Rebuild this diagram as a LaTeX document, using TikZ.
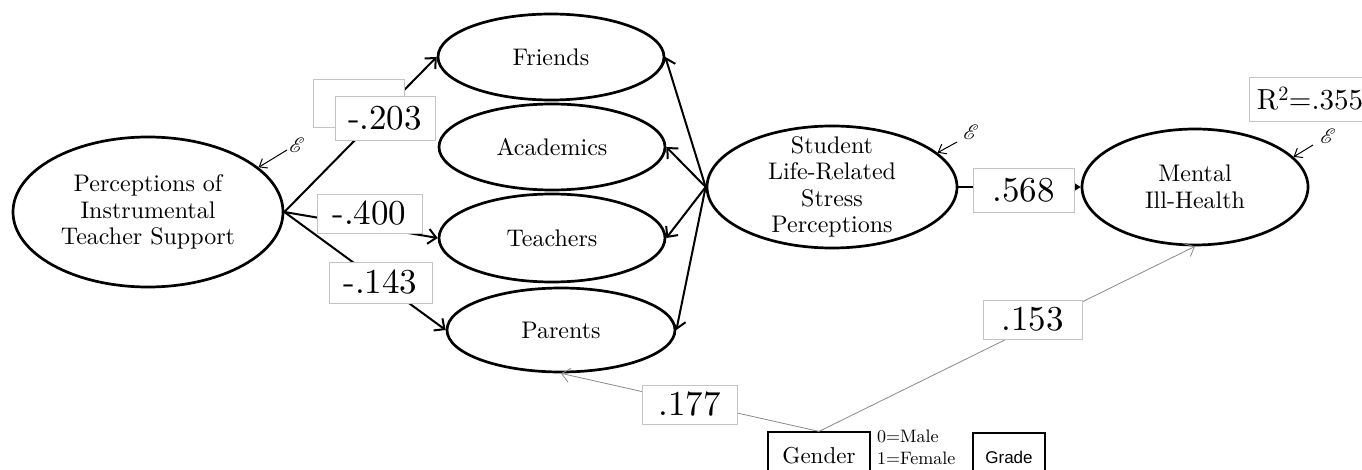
\documentclass[tikz,border=0pt]{standalone}
\usepackage{mathrsfs}
\usepackage{fontspec}
\setmainfont{lmroman10-regular.otf}[BoldFont=lmroman10-bold.otf,ItalicFont=lmroman10-italic.otf]
\newfontfamily\gradefont{Liberation Sans}
\usetikzlibrary{shapes.geometric,arrows.meta}
\definecolor{boxgray}{HTML}{C4C4C4}
\definecolor{linegray}{HTML}{8A8A8A}
\begin{document}
\begin{tikzpicture}[x=1pt,y=-1pt,
  lat/.style={ellipse,draw,line width=2.7pt,inner sep=0pt},
  txt/.style={align=center,font=\fontsize{24}{26.5}\selectfont,inner sep=0pt},
  arr/.style={line width=2pt,-{Straight Barb[length=8pt,width=15pt,line width=2pt]}},
  garr/.style={linegray,line width=0.8pt,-{Straight Barb[length=8pt,width=14pt,line width=0.8pt]}},
  earr/.style={line width=1pt,-{Straight Barb[length=7pt,width=11pt,line width=1pt]}},
  lab/.style={draw=boxgray,line width=0.8pt,fill=white,inner sep=0pt,font=\fontsize{35}{38}\selectfont},
  obs/.style={draw,line width=1.2pt,fill=white,inner sep=0pt},
  eps/.style={inner sep=0pt,font=\fontsize{20}{22}\selectfont}]
\useasboundingbox[fill=white] (0,0) rectangle (1362,470);

% latent variables
\node[lat,minimum width=270pt,minimum height=150pt,label={[txt]center:{Perceptions of\\Instrumental\\Teacher Support}}] (perc) at (148,212) {};
\node[lat,minimum width=226pt,minimum height=86pt,label={[txt]center:{Friends}}] (fr) at (551,57) {};
\node[lat,minimum width=226pt,minimum height=86pt,label={[txt]center:{Academics}}] (ac) at (552,147) {};
\node[lat,minimum width=226pt,minimum height=88pt,label={[txt]center:{Teachers}}] (te) at (552,238) {};
\node[lat,minimum width=228pt,minimum height=84pt,label={[txt]center:{Parents}}] (pa) at (561,330) {};
\node[lat,minimum width=250pt,minimum height=122pt,label={[txt]center:{Student\\Life-Related\\Stress\\Perceptions}}] (stud) at (832,187) {};
\node[lat,minimum width=226pt,minimum height=116pt,label={[txt]center:{Mental\\Ill-Health}}] (ment) at (1195,187) {};

% observed variables
\node[obs,minimum width=102pt,minimum height=48pt,font=\fontsize{23}{26}\selectfont] (gen) at (819,456) {Gender};
\node[obs,minimum width=72pt,minimum height=48pt,font=\gradefont\fontsize{17}{20}\selectfont] (gra) at (1009,457) {Grade};
\node[anchor=north west,align=left,inner sep=0pt,font=\fontsize{18}{22}\selectfont] (code) at (877,430) {0=Male\\1=Female};

% error terms
\coordinate (ePs) at (287,150);
\coordinate (eSs) at (957,142);
\coordinate (eMs) at (1313,145);
\node[eps] (eP) at (297,145) {$\mathscr{E}$};
\node[eps] (eS) at (971,132) {$\mathscr{E}$};
\node[eps] (eM) at (1328,136) {$\mathscr{E}$};
\draw[earr] (ePs) -- (perc.22);
\draw[earr] (eSs) -- (stud.18);
\draw[earr] (eMs) -- (ment.17);

% paths
\draw[arr] (perc.east) -- (fr.west);
\draw[arr] (perc.east) -- (te.west);
\draw[arr] (perc.east) -- (pa.west);
\draw[arr] (stud.west) -- (fr.east);
\draw[arr] (stud.west) -- (ac.east);
\draw[arr] (stud.west) -- (te.east);
\draw[arr] (stud.west) -- (pa.east);
\draw[line width=2.2pt,-{Triangle[length=9pt,width=11pt]}] (stud.east) -- (ment.west);
\draw[garr] (gen.north) -- (pa.south);
\draw[garr] (gen.north) -- (ment.south);

% coefficients
\node[lab,minimum width=91pt,minimum height=48pt] (b203a) at (358.5,103) {};
\node[lab,minimum width=100pt,minimum height=44pt] (b203) at (385,118) {-.203};
\node[lab,minimum width=105pt,minimum height=39pt] (b400) at (369.5,213.5) {-.400};
\node[lab,minimum width=103pt,minimum height=41pt] (b143) at (380.5,282.5) {-.143};
\node[lab,minimum width=101pt,minimum height=44pt] (b568) at (1023.5,190) {.568};
\node[lab,minimum width=95pt,minimum height=39pt] (b177) at (689.5,404.5) {.177};
\node[lab,minimum width=99pt,minimum height=39pt] (b153) at (1032.5,319.5) {.153};
\node[lab,minimum width=122pt,minimum height=44pt,font=\fontsize{29}{32}\selectfont] (r2) at (1310,99) {R\textsuperscript{2}=.355};
\end{tikzpicture}
\end{document}
